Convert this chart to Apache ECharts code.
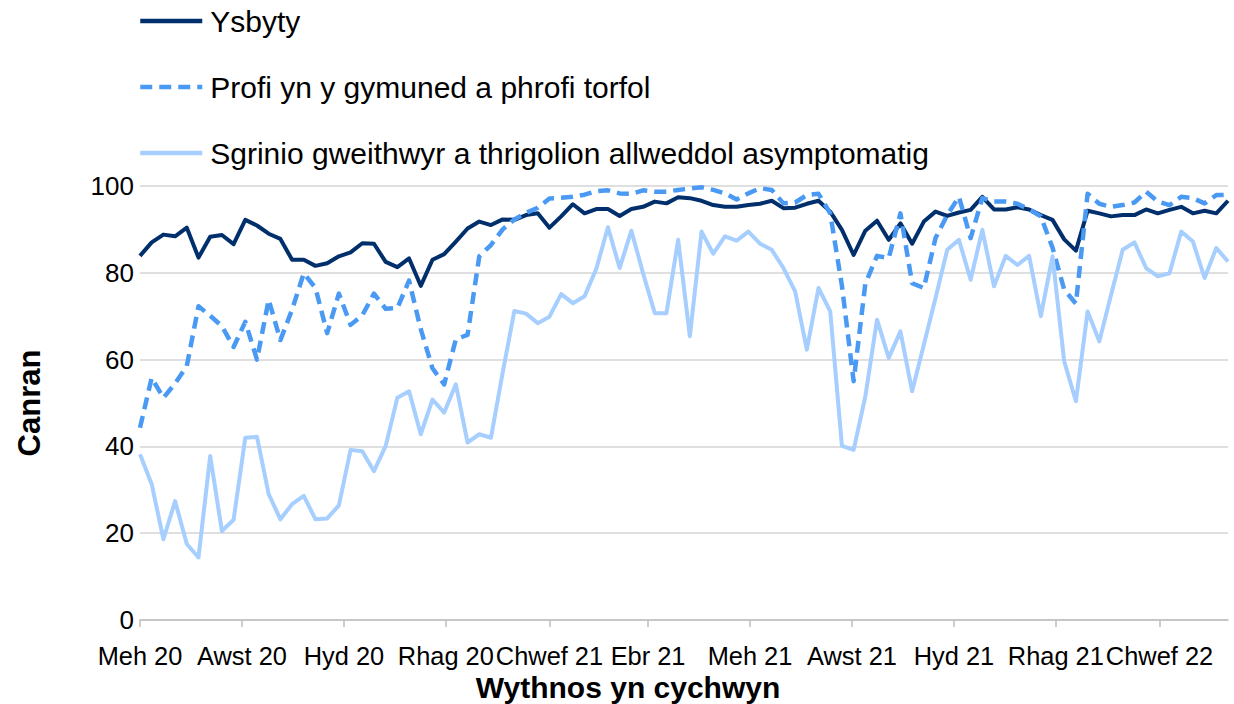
<!DOCTYPE html>
<html><head><meta charset="utf-8">
<script src="https://cdn.jsdelivr.net/npm/echarts@6/dist/echarts.min.js"></script>
<style>html,body{margin:0;padding:0;background:#fff}#c{width:1234px;height:704px}</style>
</head><body><div id="c"></div>
<script>
// ---- data ----
const firstWeek = '2020-06-01';   // week starting dates, weekly
const weekCount = 94;
const tickDates = ['2020-06-01','2020-08-01','2020-10-01','2020-12-01','2021-02-01','2021-04-01','2021-06-01','2021-08-01','2021-10-01','2021-12-01','2022-02-01'];
const tickLabels = ['Meh 20','Awst 20','Hyd 20','Rhag 20','Chwef 21','Ebr 21','Meh 21','Awst 21','Hyd 21','Rhag 21','Chwef 22'];
const seriesNames = ['Ysbyty','Profi yn y gymuned a phrofi torfol','Sgrinio gweithwyr a thrigolion allweddol asymptomatig'];
const hospital = [83.9,87.0,88.8,88.4,90.4,83.5,88.3,88.7,86.6,92.2,90.9,89.0,87.8,83.0,83.0,81.6,82.2,83.8,84.7,86.8,
  86.7,82.5,81.3,83.3,77.0,83.0,84.3,87.2,90.2,91.8,91.0,92.3,92.2,93.3,93.7,90.4,93.0,95.8,93.7,94.7,
  94.7,93.1,94.7,95.2,96.4,96.0,97.4,97.2,96.6,95.6,95.2,95.2,95.6,95.9,96.6,94.9,95.0,95.9,96.6,94.1,
  89.9,84.1,89.7,92.0,87.6,91.4,86.7,91.8,94.1,93.1,93.9,94.5,97.5,94.6,94.6,95.1,94.6,93.3,92.2,87.7,
  85.1,94.3,93.7,93.0,93.3,93.3,94.6,93.7,94.5,95.2,93.7,94.3,93.7,96.6];
const community = [44.3,55.8,51.2,54.5,58.5,72.3,70.1,67.7,62.9,68.7,60.0,73.8,64.5,71.5,79.9,76.5,66.1,75.2,68.0,70.2,
  75.2,71.7,71.9,78.2,67.0,58.0,54.3,64.7,65.7,83.8,86.4,90.0,92.3,93.8,95.0,97.1,97.3,97.5,98.0,98.8,
  99.0,98.3,98.2,99.0,98.7,98.7,99.1,99.4,99.7,99.1,98.3,96.9,98.3,99.5,99.1,96.0,96.2,97.9,98.2,93.7,
  77.0,55.0,77.5,83.9,83.4,93.7,77.6,76.5,88.0,93.3,97.5,88.0,97.2,96.4,96.4,95.9,94.6,93.0,85.8,76.1,
  72.9,98.2,95.9,95.2,95.6,96.2,98.7,96.4,95.6,97.5,97.2,96.0,97.9,97.9];
const screening = [38.2,31.3,18.6,27.4,17.5,14.4,37.8,20.5,23.1,42.0,42.2,29.0,23.2,26.7,28.6,23.2,23.4,26.4,39.2,38.9,
  34.3,40.1,51.2,52.7,42.8,50.8,47.8,54.3,40.9,42.8,42.0,57.0,71.2,70.6,68.4,69.9,75.1,73.0,74.6,80.9,
  90.5,81.1,89.7,79.9,70.7,70.7,87.6,65.4,89.5,84.4,88.4,87.4,89.5,86.7,85.3,81.1,75.7,62.3,76.5,71.1,
  40.1,39.2,51.5,69.2,60.4,66.5,52.7,63.4,74.2,85.3,87.6,78.4,89.9,76.9,83.9,81.8,83.9,70.0,83.8,59.6,
  50.4,71.1,64.2,74.9,85.3,87.0,81.1,79.2,79.9,89.5,87.2,78.8,85.7,82.6];

// ---- build ----
const DAY = 86400000;
const t0 = Date.parse(firstWeek + 'T00:00:00Z');
const dayOf = s => Math.round((Date.parse(s + 'T00:00:00Z') - t0) / DAY);
const weekDays = Array.from({length: weekCount}, (_, i) => i * 7);
const tickDays = tickDates.map(dayOf);
const labelMap = {};
tickDays.forEach((d, i) => { labelMap[d] = tickLabels[i]; });
const pts = arr => arr.map((v, i) => [weekDays[i], v]);
const FONT = "'Liberation Sans', Arial, sans-serif";

const chart = echarts.init(document.getElementById('c'), null, {renderer: 'svg'});
chart.setOption({
  animation: false,
  backgroundColor: '#fff',
  textStyle: {fontFamily: FONT},
  grid: {left: 140, right: 6, top: 186, bottom: 84, containLabel: false, outerBoundsMode: 'none'},
  legend: {
    orient: 'vertical', left: 133, top: 1,
    itemWidth: 62, itemHeight: 16, itemGap: 36,
    itemStyle: {opacity: 0},
    lineStyle: {width: 4.5},
    textStyle: {fontSize: 30, color: '#000', fontFamily: FONT, padding: [0, 0, 0, 3]},
    data: seriesNames
  },
  xAxis: {
    type: 'value', min: 0, max: weekDays[weekDays.length - 1],
    name: 'Wythnos yn cychwyn', nameLocation: 'middle', nameGap: 52,
    nameTextStyle: {fontSize: 30, fontWeight: 'bold', color: '#000', fontFamily: FONT, padding: [0, 112, 0, 0]},
    axisLine: {show: true, lineStyle: {color: '#bfbfbf', width: 1.5}},
    axisTick: {show: true, customValues: tickDays, length: 7, lineStyle: {color: '#bfbfbf', width: 1.5}},
    axisLabel: {customValues: tickDays, formatter: v => labelMap[Math.round(v)] || '', fontSize: 25.4, color: '#000',
      margin: 23, fontFamily: FONT, showMaxLabel: true, showMinLabel: true, hideOverlap: false},
    splitLine: {show: false}
  },
  yAxis: {
    type: 'value', min: 0, max: 100, interval: 20,
    name: 'Canran', nameLocation: 'middle', nameGap: 95,
    nameTextStyle: {fontSize: 31, fontWeight: 'bold', color: '#000', fontFamily: FONT},
    axisLine: {show: false}, axisTick: {show: false},
    axisLabel: {fontSize: 26, color: '#000', margin: 6, fontFamily: FONT},
    splitLine: {lineStyle: {color: '#d4d4d4', width: 1.5}}
  },
  series: [
    {name: seriesNames[0], type: 'line', data: pts(hospital), symbol: 'none', color: '#002F6C',
     lineStyle: {color: '#002F6C', width: 4, join: 'round'}},
    {name: seriesNames[1], type: 'line', data: pts(community), symbol: 'none', color: '#4A9AF4',
     lineStyle: {color: '#4A9AF4', width: 4.5, type: [12, 7], join: 'round'}},
    {name: seriesNames[2], type: 'line', data: pts(screening), symbol: 'none', color: '#A6CEFF',
     lineStyle: {color: '#A6CEFF', width: 4, join: 'round'}}
  ]
});
</script>
</body></html>
